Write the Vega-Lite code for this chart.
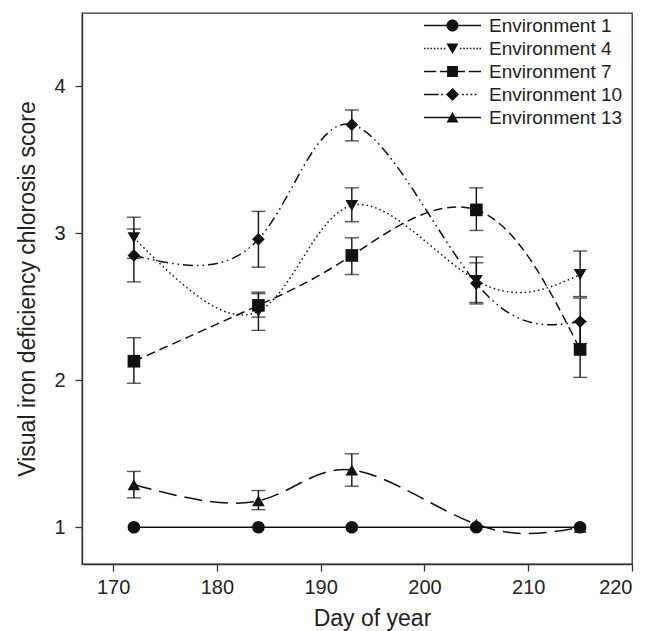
{
  "$schema": "https://vega.github.io/schema/vega-lite/v6.json",
  "width": 550,
  "height": 551,
  "autosize": "none",
  "padding": {"left": 82, "top": 13, "right": 17, "bottom": 67},
  "config": {
    "font": "Liberation Sans",
    "view": {"stroke": "#333", "strokeWidth": 1.3},
    "axis": {"domainColor": "#333", "tickColor": "#333", "domainWidth": 1.3, "tickWidth": 1.3, "tickSize": 7, "labelColor": "#222", "titleColor": "#222", "labelFontSize": 20, "titleFontSize": 23, "titleFontWeight": "normal", "grid": false},
    "legend": {"labelFontSize": 19, "labelColor": "#222"}
  },
  "data": {
    "values": [
      {"env": "Environment 1", "day": 172, "score": 1.0},
      {"env": "Environment 1", "day": 184, "score": 1.0},
      {"env": "Environment 1", "day": 193, "score": 1.0},
      {"env": "Environment 1", "day": 205, "score": 1.0},
      {"env": "Environment 1", "day": 215, "score": 1.0},
      {"env": "Environment 4", "day": 172, "score": 2.97, "lo": 2.83, "hi": 3.11},
      {"env": "Environment 4", "day": 184, "score": 2.47, "lo": 2.34, "hi": 2.6},
      {"env": "Environment 4", "day": 193, "score": 3.19, "lo": 3.08, "hi": 3.31},
      {"env": "Environment 4", "day": 205, "score": 2.68, "lo": 2.52, "hi": 2.84},
      {"env": "Environment 4", "day": 215, "score": 2.72, "lo": 2.57, "hi": 2.88},
      {"env": "Environment 7", "day": 172, "score": 2.13, "lo": 1.98, "hi": 2.29},
      {"env": "Environment 7", "day": 184, "score": 2.51, "lo": 2.43, "hi": 2.59},
      {"env": "Environment 7", "day": 193, "score": 2.85, "lo": 2.72, "hi": 2.97},
      {"env": "Environment 7", "day": 205, "score": 3.16, "lo": 3.02, "hi": 3.31},
      {"env": "Environment 7", "day": 215, "score": 2.21, "lo": 2.02, "hi": 2.4},
      {"env": "Environment 10", "day": 172, "score": 2.85, "lo": 2.67, "hi": 3.03},
      {"env": "Environment 10", "day": 184, "score": 2.96, "lo": 2.77, "hi": 3.15},
      {"env": "Environment 10", "day": 193, "score": 3.74, "lo": 3.63, "hi": 3.84},
      {"env": "Environment 10", "day": 205, "score": 2.66, "lo": 2.53, "hi": 2.8},
      {"env": "Environment 10", "day": 215, "score": 2.4, "lo": 2.25, "hi": 2.56},
      {"env": "Environment 13", "day": 172, "score": 1.29, "lo": 1.2, "hi": 1.38},
      {"env": "Environment 13", "day": 184, "score": 1.18, "lo": 1.12, "hi": 1.25},
      {"env": "Environment 13", "day": 193, "score": 1.39, "lo": 1.28, "hi": 1.5},
      {"env": "Environment 13", "day": 205, "score": 1.02},
      {"env": "Environment 13", "day": 215, "score": 1.0}
    ]
  },
  "encoding": {
    "x": {"field": "day", "type": "quantitative", "scale": {"domain": [167, 220], "nice": false, "zero": false},
      "axis": {"values": [170, 180, 190, 200, 210, 220], "title": "Day of year", "labelPadding": 6, "titlePadding": 10, "titleX": 290, "titleAlign": "center"}}
  },
  "layer": [
    {
      "mark": {"type": "line", "interpolate": "natural", "color": "#111", "strokeWidth": 1.5},
      "encoding": {
        "y": {"field": "score", "type": "quantitative", "scale": {"domain": [0.75, 4.5], "nice": false, "zero": false},
          "axis": {"values": [1, 2, 3, 4], "format": "d", "title": "Visual iron deficiency chlorosis score", "labelPadding": 10, "titlePadding": 14}},
        "strokeDash": {"field": "env", "type": "nominal", "legend": null,
          "scale": {"domain": ["Environment 1", "Environment 4", "Environment 7", "Environment 10", "Environment 13"],
            "range": [[1, 0], [1.5, 3], [9, 5], [10, 4, 1.5, 4, 1.5, 4], [18, 8]]}}
      }
    },
    {
      "transform": [{"filter": "isValid(datum.lo)"}],
      "mark": {"type": "rule", "color": "#111", "strokeWidth": 1.4},
      "encoding": {"y": {"field": "lo", "type": "quantitative"}, "y2": {"field": "hi"}}
    },
    {
      "transform": [{"filter": "isValid(datum.lo)"}],
      "mark": {"type": "tick", "orient": "horizontal", "color": "#111", "size": 14, "thickness": 1.4},
      "encoding": {"y": {"field": "lo", "type": "quantitative"}}
    },
    {
      "transform": [{"filter": "isValid(datum.hi)"}],
      "mark": {"type": "tick", "orient": "horizontal", "color": "#111", "size": 14, "thickness": 1.4},
      "encoding": {"y": {"field": "hi", "type": "quantitative"}}
    },
    {
      "mark": {"type": "point", "filled": true, "color": "#111", "opacity": 1, "size": 160},
      "encoding": {
        "y": {"field": "score", "type": "quantitative"},
        "shape": {"field": "env", "type": "nominal", "legend": null,
          "scale": {"domain": ["Environment 1", "Environment 4", "Environment 7", "Environment 10", "Environment 13"],
            "range": ["circle", "triangle-down", "square", "diamond", "triangle-up"]}}
      }
    },
    {
      "mark": {"type": "point", "filled": true, "color": "#111", "opacity": 0, "size": 144},
      "encoding": {
        "y": {"field": "score", "type": "quantitative"},
        "shape": {"field": "env", "type": "nominal",
          "scale": {"domain": ["Environment 1", "Environment 4", "Environment 7", "Environment 10", "Environment 13"],
            "range": [
              "M-4.75,-0.11L4.75,-0.11L4.75,0.11L-4.75,0.11ZM1,0A1,1,0,1,1,-1,0A1,1,0,1,1,1,0Z",
              "M-4.75,-0.11L-4.5,-0.11L-4.5,0.11L-4.75,0.11ZM-4.2,-0.11L-3.95,-0.11L-3.95,0.11L-4.2,0.11ZM-3.65,-0.11L-3.4,-0.11L-3.4,0.11L-3.65,0.11ZM-3.1,-0.11L-2.85,-0.11L-2.85,0.11L-3.1,0.11ZM-2.55,-0.11L-2.3,-0.11L-2.3,0.11L-2.55,0.11ZM-2,-0.11L-1.75,-0.11L-1.75,0.11L-2,0.11ZM-1.45,-0.11L-1.2,-0.11L-1.2,0.11L-1.45,0.11ZM1.25,-0.11L1.5,-0.11L1.5,0.11L1.25,0.11ZM1.8,-0.11L2.05,-0.11L2.05,0.11L1.8,0.11ZM2.35,-0.11L2.6,-0.11L2.6,0.11L2.35,0.11ZM2.9,-0.11L3.15,-0.11L3.15,0.11L2.9,0.11ZM3.45,-0.11L3.7,-0.11L3.7,0.11L3.45,0.11ZM4,-0.11L4.25,-0.11L4.25,0.11L4,0.11ZM4.5,-0.11L4.75,-0.11L4.75,0.11L4.5,0.11ZM-1,-0.85L1,-0.85L0,0.9Z",
              "M-4.75,-0.11L-2.7,-0.11L-2.7,0.11L-4.75,0.11ZM-2.1,-0.11L2.1,-0.11L2.1,0.11L-2.1,0.11ZM2.7,-0.11L4.75,-0.11L4.75,0.11L2.7,0.11ZM-0.9,-0.9L0.9,-0.9L0.9,0.9L-0.9,0.9Z",
              "M-4.75,-0.11L-2.3,-0.11L-2.3,0.11L-4.75,0.11ZM-1.9,-0.11L-1.6,-0.11L-1.6,0.11L-1.9,0.11ZM1.6,-0.11L1.9,-0.11L1.9,0.11L1.6,0.11ZM2.3,-0.11L2.6,-0.11L2.6,0.11L2.3,0.11ZM3,-0.11L3.3,-0.11L3.3,0.11L3,0.11ZM3.7,-0.11L4,-0.11L4,0.11L3.7,0.11ZM0,-1.1L1.1,0L0,1.1L-1.1,0Z",
              "M-4.75,-0.11L4.75,-0.11L4.75,0.11L-4.75,0.11ZM0,-0.9L1,0.85L-1,0.85Z"
            ]},
          "legend": {"title": null, "orient": "none", "legendX": 361, "legendY": 3, "labelOffset": 27, "symbolSize": 144, "rowPadding": 3, "padding": 0,
            "symbolFillColor": "#111", "symbolStrokeWidth": 0, "symbolOpacity": 1,
            "encode": {"symbols": {"update": {"opacity": {"value": 1}, "fill": {"value": "#111"}, "fillOpacity": {"value": 1}, "strokeWidth": {"value": 0}}}}}}
      }
    }
  ],
  "resolve": {"scale": {"shape": "independent"}}
}
